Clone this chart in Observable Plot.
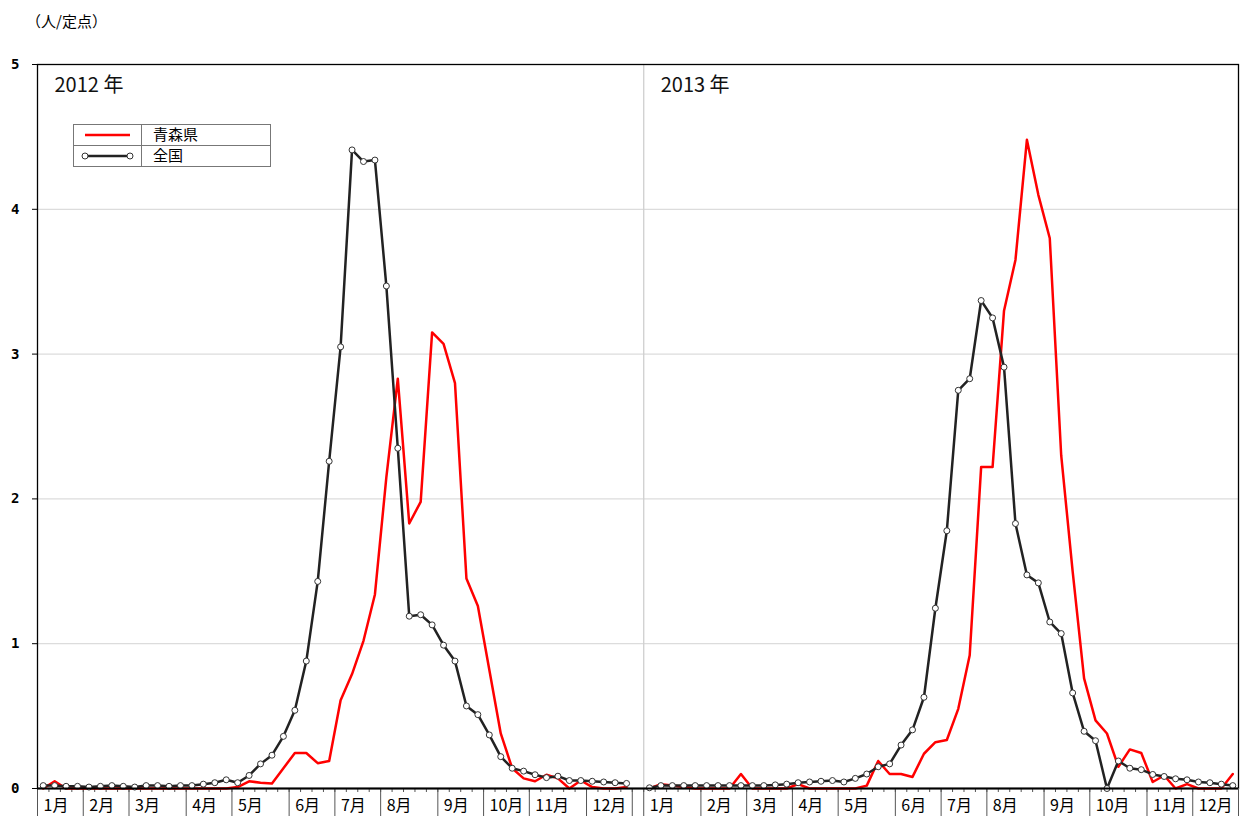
<!DOCTYPE html>
<html>
<head>
<meta charset="utf-8">
<script src="https://cdn.jsdelivr.net/npm/d3@7"></script>
<script src="https://cdn.jsdelivr.net/npm/@observablehq/plot@0.6"></script>
<style>
  body { margin: 0; background: #fff; font-family: "Noto Sans CJK JP", "Noto Sans", sans-serif; }
  #wrap { position: relative; width: 1240px; height: 816px; overflow: hidden; }
  #chart { position: absolute; left: 0; top: 0; }
  #unit { position: absolute; left: 26px; top: 10px; font-size: 15px; color: #000; }
  #legend { position: absolute; left: 73px; top: 124px; }
  #legend svg { overflow: visible; }
</style>
</head>
<body>
<div id="wrap">
  <div id="chart"></div>
  <div id="unit">（人/定点）</div>
  <div id="legend"></div>
</div>
<script>
// ---- data ----
const years = [2012, 2013];
const seriesNames = ["青森県", "全国"];
const monthLabels = ["1月","2月","3月","4月","5月","6月","7月","8月","9月","10月","11月","12月"];
const weeksPerMonth2012 = [4,4,5,4,5,4,4,5,4,4,5,4];
const weeksPerMonth2013 = [5,4,4,4,5,4,4,5,4,5,4,4];
const yTicks = [0, 1, 2, 3, 4, 5];

const aomori2012 = [0,0.05,0,0,0,0,0,0,0,0,0,0,0,0,0,0,0,0.01,0.05,0.04,
  0.035,0.14,0.245,0.245,0.175,0.19,0.61,0.79,1.02,1.34,2.15,2.83,1.83,1.98,3.15,3.07,2.8,1.45,1.26,0.82,
  0.38,0.14,0.07,0.05,0.095,0.07,0,0.055,0.01,0,0,0.01];
const national2012 = [0.02,0.02,0.015,0.015,0.01,0.015,0.02,0.015,0.01,0.02,0.02,0.015,0.02,0.02,0.03,0.04,0.06,0.04,0.09,0.17,
  0.23,0.36,0.54,0.88,1.43,2.26,3.05,4.41,4.33,4.34,3.47,2.35,1.19,1.2,1.13,0.99,0.88,0.57,0.51,0.37,
  0.22,0.14,0.12,0.095,0.075,0.085,0.055,0.055,0.05,0.045,0.04,0.035];
const aomori2013 = [0,0.03,0.02,0.01,0,0,0,0,0.1,0,0,0,0,0.03,0,0,0,0,0,0.02,
  0.19,0.1,0.1,0.08,0.24,0.32,0.335,0.55,0.92,2.22,2.22,3.3,3.65,4.48,4.1,3.8,2.3,1.5,0.76,0.47,
  0.38,0.15,0.27,0.245,0.045,0.09,0,0.03,0,0,0,0.1];
const national2013 = [0.005,0.02,0.02,0.02,0.02,0.02,0.02,0.02,0.02,0.02,0.02,0.025,0.03,0.04,0.045,0.05,0.055,0.045,0.07,0.1,
  0.15,0.17,0.3,0.405,0.63,1.245,1.78,2.75,2.83,3.37,3.25,2.91,1.83,1.475,1.42,1.15,1.07,0.66,0.395,0.33,
  0,0.19,0.14,0.13,0.097,0.083,0.067,0.06,0.045,0.04,0.03,0.02];

// ---- derived tables ----
const series = {
  2012: {aomori: aomori2012, national: national2012, months: weeksPerMonth2012},
  2013: {aomori: aomori2013, national: national2013, months: weeksPerMonth2013}
};
const weeksInYear = 52;
const gap = 1;
const offset = y => years.indexOf(y) * (weeksInYear + gap);

const rows = [];
const monthBounds = [];
const weekBounds = [];
const monthText = [];
for (const y of years) {
  const s = series[y];
  s.aomori.forEach((v, i) => rows.push({year: y, pos: offset(y) + i + 0.5, aomori: v, national: s.national[i]}));
  let c = 0;
  monthBounds.push(offset(y));
  s.months.forEach((n, m) => {
    monthText.push({x: offset(y) + c, label: monthLabels[m]});
    c += n;
    monthBounds.push(offset(y) + c);
  });
  for (let w = 0; w <= weeksInYear; w++) weekBounds.push(offset(y) + w);
}
const divider = [offset(years[1])];

const font = '"Noto Sans CJK JP", "Noto Sans", sans-serif';

const plot = Plot.plot({
  width: 1240,
  height: 816,
  marginTop: 64,
  marginBottom: 28,
  marginLeft: 37,
  marginRight: 2,
  x: {domain: [0, years.length * weeksInYear + gap], axis: null},
  y: {domain: [0, 5], axis: null},
  style: {fontFamily: font, background: "white", color: "black"},
  marks: [
    Plot.gridY(yTicks.filter(d => d > 0 && d < 5), {stroke: "#dcdcdc", strokeOpacity: 1, strokeWidth: 1.3}),
    Plot.ruleX(divider, {stroke: "#cfcfcf", strokeWidth: 1.3}),
    Plot.frame({stroke: "black", strokeWidth: 1.3}),
    Plot.axisY({ticks: yTicks, tickFormat: d => String(d), tickSize: 5, tickPadding: 13, fontSize: 14, fontWeight: "bold", stroke: "black", fontFamily: "DejaVu Sans Mono"}),
    Plot.axisX({ticks: monthBounds, tickSize: 28, tickFormat: () => "", stroke: "#555"}),
    Plot.axisX({ticks: weekBounds, tickSize: 4, tickFormat: () => "", stroke: "#555"}),
    Plot.text(monthText, {x: "x", text: "label", frameAnchor: "bottom", lineAnchor: "middle", dy: 17, dx: 6, textAnchor: "start", fontSize: 16, fill: "black"}),
    Plot.text(years, {x: d => offset(d), text: d => `${d} 年`, frameAnchor: "top", lineAnchor: "middle", dy: 21, dx: 17, textAnchor: "start", fontSize: 20, fill: "#111"}),
    Plot.line(rows, {x: "pos", y: "aomori", z: "year", stroke: "#ff0000", strokeWidth: 2.5}),
    Plot.line(rows, {x: "pos", y: "national", z: "year", stroke: "#222", strokeWidth: 2.5}),
    Plot.dot(rows, {x: "pos", y: "national", r: 3, fill: "white", stroke: "#333", strokeWidth: 1}),
    Plot.ruleY([0], {stroke: "black", strokeWidth: 2.2})
  ]
});
document.getElementById("chart").append(plot);

// ---- legend ----
const lg = d3.select("#legend").append("svg").attr("width", 200).attr("height", 44);
lg.append("rect").attr("x", 0.5).attr("y", 0.5).attr("width", 197).attr("height", 42).attr("fill", "white").attr("stroke", "#777");
lg.append("line").attr("x1", 0.5).attr("x2", 197.5).attr("y1", 21.5).attr("y2", 21.5).attr("stroke", "#777");
lg.append("line").attr("x1", 68.5).attr("x2", 68.5).attr("y1", 0.5).attr("y2", 42.5).attr("stroke", "#777");
lg.append("line").attr("x1", 12).attr("x2", 57).attr("y1", 11).attr("y2", 11).attr("stroke", "#ff0000").attr("stroke-width", 2.5);
lg.append("line").attr("x1", 12).attr("x2", 57).attr("y1", 32).attr("y2", 32).attr("stroke", "#222").attr("stroke-width", 2.5);
[12, 57].forEach(cx => lg.append("circle").attr("cx", cx).attr("cy", 32).attr("r", 3).attr("fill", "white").attr("stroke", "#333"));
seriesNames.forEach((n, i) => lg.append("text").attr("x", 80).attr("y", 11 + i * 21).attr("dy", "0.35em")
  .attr("font-size", 15).attr("font-family", font).text(n));
</script>
</body>
</html>
